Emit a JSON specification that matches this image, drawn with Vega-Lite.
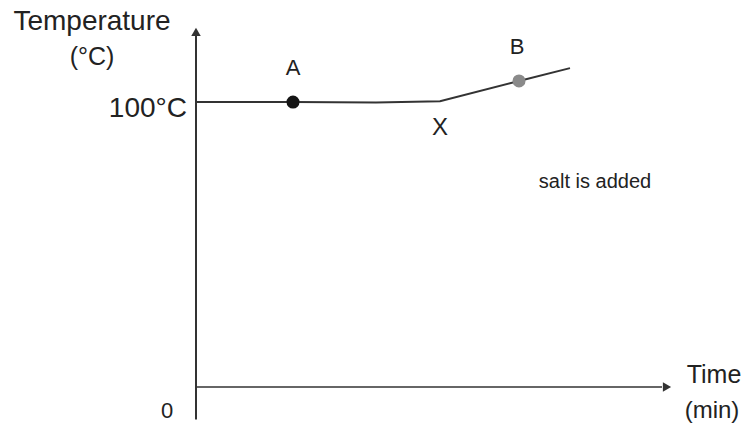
{
  "$schema": "https://vega.github.io/schema/vega-lite/v6.json",
  "width": 753,
  "height": 425,
  "padding": 0,
  "autosize": "none",
  "background": "white",
  "config": {"view": {"stroke": null}, "text": {"font": "Liberation Sans", "color": "#222222"}},
  "datasets": {
    "axes": [
      {"t1": 0, "T1": -11.4, "t2": 0, "T2": 123.5, "w": 2},
      {"t1": 0, "T1": 0, "t2": 46.6, "T2": 0, "w": 1.4}
    ],
    "arrows": [
      {"t": 0, "T": 124.6, "shape": "triangle-up"},
      {"t": 47.1, "T": 0, "shape": "triangle-right"}
    ],
    "curve": [
      {"t": 0, "T": 100},
      {"t": 9.7, "T": 100},
      {"t": 18, "T": 99.8},
      {"t": 24.4, "T": 100.3},
      {"t": 32.3, "T": 107.4},
      {"t": 37.4, "T": 111.9}
    ],
    "points": [
      {"t": 9.7, "T": 100, "name": "A"},
      {"t": 32.3, "T": 107.4, "name": "B"}
    ],
    "labels": [
      {"t": -10.4, "T": 128.1, "label": "Temperature", "size": 28, "align": "center"},
      {"t": -10.4, "T": 115.8, "label": "(°C)", "size": 25, "align": "center"},
      {"t": -0.9, "T": 97.4, "label": "100°C", "size": 28, "align": "right"},
      {"t": -2.9, "T": -8.3, "label": "0", "size": 22, "align": "center"},
      {"t": 9.7, "T": 111.9, "label": "A", "size": 22, "align": "center"},
      {"t": 32.1, "T": 119.3, "label": "B", "size": 22, "align": "center"},
      {"t": 24.4, "T": 90.9, "label": "X", "size": 24, "align": "center"},
      {"t": 39.9, "T": 72, "label": "salt is added", "size": 20, "align": "center"},
      {"t": 51.8, "T": 4.2, "label": "Time", "size": 25, "align": "center"},
      {"t": 51.6, "T": -8.3, "label": "(min)", "size": 24, "align": "center"}
    ]
  },
  "encoding": {},
  "layer": [
    {
      "data": {"name": "axes"},
      "mark": {"type": "rule", "color": "#333333"},
      "encoding": {
        "x": {"field": "t1", "type": "quantitative", "scale": {"domain": [-19.6, 55.7], "nice": false, "zero": false}, "axis": null},
        "y": {"field": "T1", "type": "quantitative", "scale": {"domain": [-13.33, 135.8], "nice": false, "zero": false}, "axis": null},
        "x2": {"field": "t2"},
        "y2": {"field": "T2"},
        "strokeWidth": {"field": "w", "type": "quantitative", "scale": null, "legend": null}
      }
    },
    {
      "data": {"name": "arrows"},
      "mark": {"type": "point", "filled": true, "color": "#333333", "opacity": 1, "size": 90},
      "encoding": {
        "x": {"field": "t", "type": "quantitative"},
        "y": {"field": "T", "type": "quantitative"},
        "shape": {"field": "shape", "type": "nominal", "scale": null, "legend": null}
      }
    },
    {
      "data": {"name": "curve"},
      "mark": {"type": "line", "color": "#333333", "strokeWidth": 2},
      "encoding": {
        "x": {"field": "t", "type": "quantitative"},
        "y": {"field": "T", "type": "quantitative"}
      }
    },
    {
      "data": {"name": "points"},
      "mark": {"type": "circle", "opacity": 1, "size": 170},
      "encoding": {
        "x": {"field": "t", "type": "quantitative"},
        "y": {"field": "T", "type": "quantitative"},
        "color": {"field": "name", "type": "nominal", "scale": {"domain": ["A", "B"], "range": ["#151515", "#8a8a8a"]}, "legend": null}
      }
    },
    {
      "data": {"name": "labels"},
      "transform": [{"filter": "datum.align === 'center'"}],
      "mark": {"type": "text", "baseline": "middle", "align": "center"},
      "encoding": {
        "x": {"field": "t", "type": "quantitative"},
        "y": {"field": "T", "type": "quantitative"},
        "text": {"field": "label", "type": "nominal"},
        "size": {"field": "size", "type": "quantitative", "scale": null, "legend": null}
      }
    },
    {
      "data": {"name": "labels"},
      "transform": [{"filter": "datum.align === 'right'"}],
      "mark": {"type": "text", "baseline": "middle", "align": "right"},
      "encoding": {
        "x": {"field": "t", "type": "quantitative"},
        "y": {"field": "T", "type": "quantitative"},
        "text": {"field": "label", "type": "nominal"},
        "size": {"field": "size", "type": "quantitative", "scale": null, "legend": null}
      }
    }
  ]
}
